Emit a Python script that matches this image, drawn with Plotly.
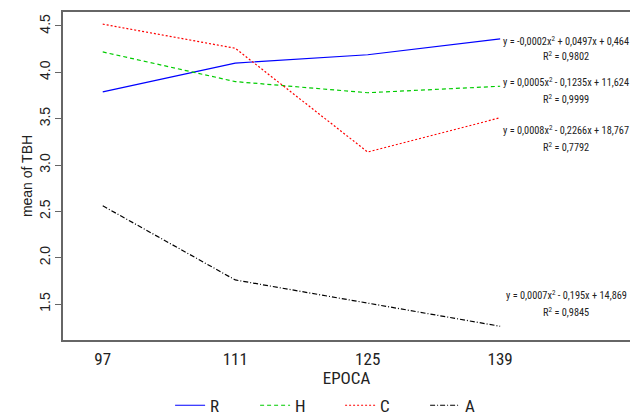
import plotly.graph_objects as go

epoca = ["97", "111", "125", "139"]
series_names = ["R", "H", "C", "A"]
R_vals = [3.79, 4.10, 4.19, 4.36]
H_vals = [4.22, 3.90, 3.78, 3.85]
C_vals = [4.52, 4.26, 3.14, 3.51]
A_vals = [2.56, 1.76, 1.51, 1.26]
eq_texts = [
    "y = -0,0002x<sup>2</sup> + 0,0497x + 0,464",
    "y = 0,0005x<sup>2</sup> - 0,1235x + 11,624",
    "y = 0,0008x<sup>2</sup> - 0,2266x + 18,767",
    "y = 0,0007x<sup>2</sup> - 0,195x + 14,869",
]
r2_texts = [
    "R<sup>2</sup> = 0,9802",
    "R<sup>2</sup> = 0,9999",
    "R<sup>2</sup> = 0,7792",
    "R<sup>2</sup> = 0,9845",
]
eq_pos = [4.341, 3.899, 3.378, 1.597]
r2_pos = [4.180, 3.709, 3.198, 1.414]

styles = [
    dict(color="#0000ff", dash="solid"),
    dict(color="#00cc00", dash="4px,3px"),
    dict(color="#ff0000", dash="2px,2px"),
    dict(color="#000000", dash="5px,2px,1px,2px"),
]

NARROW = "Roboto Condensed, Liberation Sans, sans-serif"

fig = go.Figure()
for name, vals, st in zip(series_names, [R_vals, H_vals, C_vals, A_vals], styles):
    fig.add_trace(go.Scatter(
        x=list(range(len(epoca))), y=vals, name=name, mode="lines",
        line=dict(color=st["color"], dash=st["dash"], width=1.2),
    ))

for txt, yv in zip(eq_texts + r2_texts, eq_pos + r2_pos):
    fig.add_annotation(
        x=3.50, xref="x", y=yv, yref="y", xanchor="center", yanchor="middle",
        text=txt, showarrow=False, align="center",
        font=dict(family=NARROW, size=10.3, color="#222222"),
    )

fig.update_layout(
    width=630, height=414,
    margin=dict(l=63, r=0, t=12, b=74, autoexpand=False),
    paper_bgcolor="white", plot_bgcolor="white",
    font=dict(family="Liberation Sans, Arial, sans-serif", size=14, color="#222222"),
    showlegend=True,
    legend=dict(
        orientation="h", xref="container", yref="container",
        x=0.27, xanchor="left", y=0.02, yanchor="middle",
        entrywidth=40, entrywidthmode="pixels",
        font=dict(family=NARROW, size=17),
        traceorder="normal", bgcolor="rgba(0,0,0,0)",
    ),
    xaxis=dict(
        tickmode="array", tickvals=list(range(len(epoca))), ticktext=epoca,
        range=[-0.30, 3.98], showgrid=False, zeroline=False, automargin=False,
        showline=True, linecolor="#666666", linewidth=1.5, mirror=True,
        ticks="", ticklabelstandoff=3, tickfont=dict(family=NARROW, size=17),
        title=dict(text="EPOCA", standoff=5, font=dict(family=NARROW, size=17)),
    ),
    yaxis=dict(
        range=[1.112, 4.651], tickvals=[1.5, 2.0, 2.5, 3.0, 3.5, 4.0, 4.5],
        ticktext=["1.5", "2.0", "2.5", "3.0", "3.5", "4.0", "4.5"],
        tickangle=-90, showgrid=False, zeroline=False, automargin=False,
        showline=True, linecolor="#666666", linewidth=1.5, mirror=False,
        ticks="outside", ticklen=6, tickcolor="#666666",
        tickfont=dict(size=14),
        title=dict(text="mean of TBH", standoff=1, font=dict(size=14)),
    ),
)

fig.write_html("out.html", config={"displayModeBar": False},
               post_script="document.body.style.margin='0px';document.body.style.padding='0px';")
